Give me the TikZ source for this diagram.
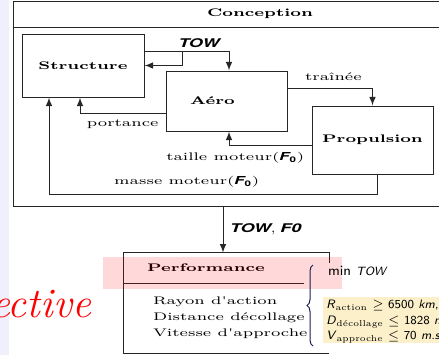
\documentclass[tikz,border=0pt]{standalone}
\usepackage{fontspec}
\newfontfamily\schema{lmroman7-regular.otf}[BoldFont=lmroman7-bold.otf, FakeStretch=1.5]
\newfontfamily\hv{TeX Gyre Heros}[FakeStretch=1.5]
\newfontfamily\lmsans{lmsans8-regular.otf}[ItalicFont=lmsans8-oblique.otf]
\usetikzlibrary{decorations.pathreplacing}
\definecolor{lavande}{RGB}{240,240,252}
\definecolor{jaune}{RGB}{251,240,202}
\definecolor{marine}{RGB}{25,30,80}
\newcommand{\tow}{{\hv\bfseries\itshape TOW}}
\newcommand{\Fz}{{\hv\bfseries\itshape F\textsubscript{\upshape 0}}}
\tikzset{
  gras/.style={font=\schema\fontsize{5.5}{7}\selectfont\bfseries},
  bloc/.style={gras, draw=black!85, line width=0.5pt, minimum width=60.5pt},
  texte/.style={font=\schema\fontsize{5.5}{8}\selectfont},
  fleche/.style={draw=black!85, line width=0.5pt, ->, >=latex},
  trait/.style={draw=black!85, line width=0.5pt},
}
\begin{document}
\begin{tikzpicture}[x=0.5pt, y=-0.5pt]
\useasboundingbox (0,0) rectangle (439,355);
\clip (0,0) rectangle (439,355);
\fill[lavande] (0,0) rectangle (9,355);
\node[bloc, minimum width=247pt, minimum height=102.5pt] (conception) at (260,103.5) {};
\node[gras] (titre) at (260,14) {Conception};
\coordinate (bande) at (0,27);
\draw[trait] (conception.west |- bande) -- (conception.east |- bande);
\node[bloc, minimum width=61pt, minimum height=31.5pt] (structure) at (83,65.5) {Structure};
\node[bloc, minimum height=30pt, label={[gras, xshift=-7pt]center:Aéro}] (aero) at (226.5,101) {};
\node[bloc, minimum height=34pt] (propulsion) at (372.5,140) {Propulsion};
\coordinate (tow) at (182,51);
\draw[fleche] ([yshift=7.25pt]structure.east) -| ([xshift=1.25pt]aero.north);
\draw[fleche] (tow) |- (structure.east);
\node[font=\fontsize{6}{7}\selectfont] (towtexte) at (199,43) {\tow};
\draw[fleche] ([yshift=6.5pt]aero.east) -| (propulsion.north)
  node[pos=0.27, above, texte] {traînée};
\draw[fleche] ([yshift=-6pt]aero.west) -| ([xshift=-1.5pt]structure.south)
  node[pos=0.25, below, texte] {portance};
\draw[fleche] ([yshift=-2.5pt]propulsion.west) -| ([xshift=1.25pt]aero.south)
  node[pos=0, below left, texte] {taille moteur(\Fz)};
\draw[fleche] ([xshift=2.25pt]propulsion.south) -- ++(0,20) -| ([xshift=-17pt]structure.south)
  node[pos=0.29, above, texte] {masse moteur(\Fz)};
\node[minimum width=102.5pt, minimum height=50pt] (perf) at (226.5,303) {};
\draw[trait] (perf.south east) -- (perf.south west) -- (perf.north west) -- (perf.north east) -- ++(0,10);
\coordinate (sep) at (304,283);
\draw[trait] (perf.west |- sep) -- (sep);
\draw[fleche] ([xshift=-18.5pt]conception.south) -- ([xshift=-1.75pt]perf.north)
  node[midway, right, font=\fontsize{6}{7}\selectfont] {\tow, {\hv\bfseries\itshape F0}};
\node[gras] (titreperf) at (206,268) {Performance};
\node[texte, align=left, anchor=west] (criteres) at (146,318) {Rayon d'action\\Distance décollage\\Vitesse d'approche};
\fill[red, fill opacity=0.15] (103,257) rectangle (342,289);
\draw[marine, line width=0.5pt, decorate, decoration={brace, amplitude=3pt}] (313,346) -- (313,265);
\node[font=\lmsans\fontsize{6}{7}\selectfont, anchor=west] (objectif) at (321,271) {{\fontsize{7}{7}\selectfont min}\hspace{2.5pt}\textit{TOW}};
\fill[jaune] (323,297) rectangle (445,343);
\node[font=\lmsans\fontsize{6.1}{7.75}\selectfont, align=left, anchor=west, inner sep=1pt] (contraintes) at (324,322)
  {\textit{R}\textsubscript{\rmfamily action} $\geq$ 6500 \textit{km},\\
   \textit{D}\textsubscript{\rmfamily décollage} $\leq$ 1828 \textit{m},\\
   \textit{V}\textsubscript{\rmfamily approche} $\leq$ 70 \textit{m.s}$^{-1}$};
\node[red, font=\fontsize{21}{24}\selectfont\itshape, anchor=base east] (objective) at (98,317) {ective};
\end{tikzpicture}
\end{document}
